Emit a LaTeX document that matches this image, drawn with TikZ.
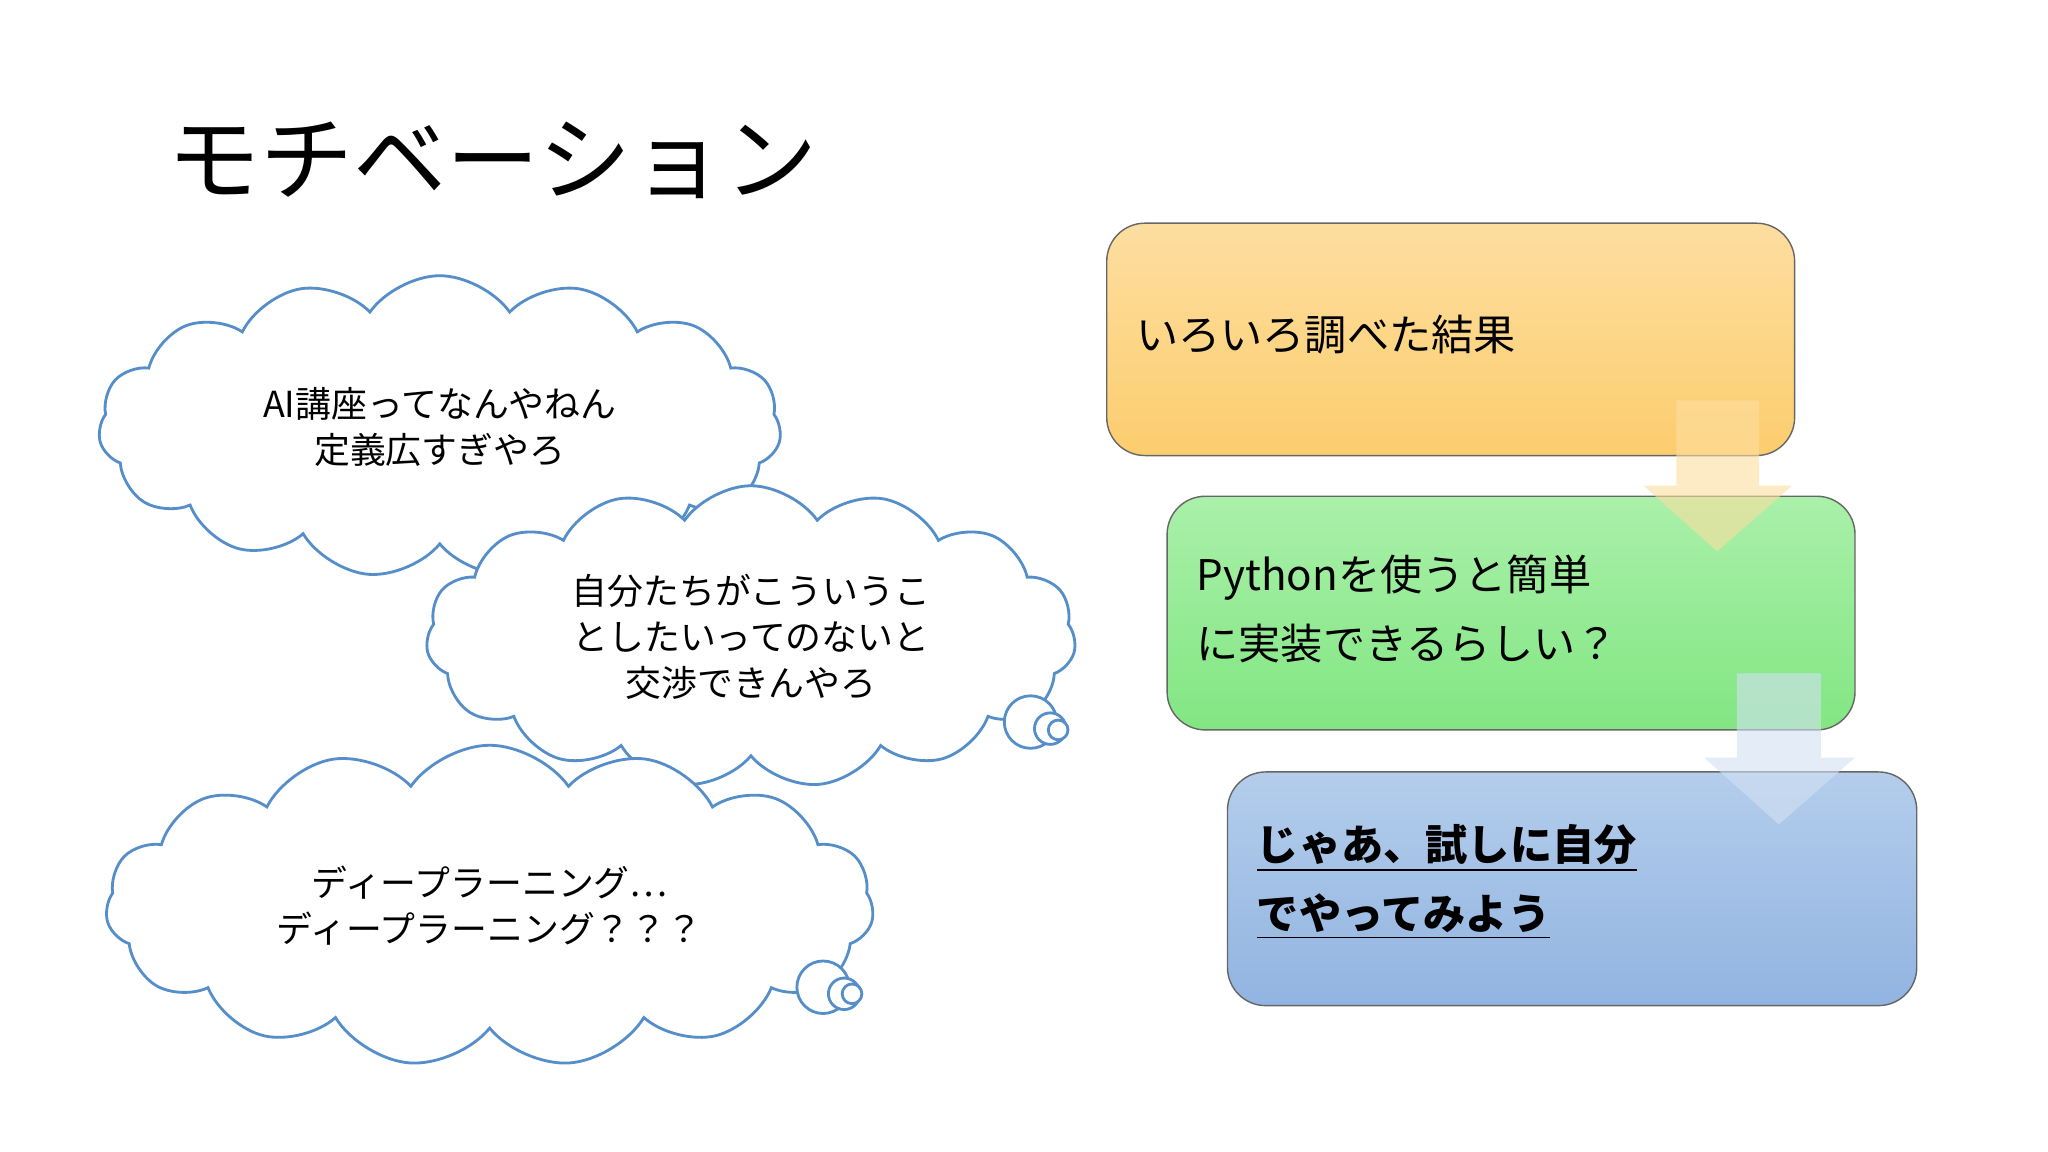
\documentclass[tikz,border=0pt]{standalone}
\usepackage{fontspec}
\setmainfont{Noto Sans CJK JP}
\usetikzlibrary{shapes.symbols,positioning}
\definecolor{cloudblue}{RGB}{85,142,200}
\definecolor{orangeA}{RGB}{253,222,160}
\definecolor{orangeB}{RGB}{252,205,110}
\definecolor{greenA}{RGB}{170,240,170}
\definecolor{greenB}{RGB}{130,230,130}
\definecolor{blueA}{RGB}{180,205,235}
\definecolor{blueB}{RGB}{145,180,225}
\begin{document}
\begin{tikzpicture}[x=0.01313cm,y=-0.01313cm]
\tikzset{
  thought/.style={cloud, cloud puffs=15, cloud puff arc=110, aspect=2.3, draw=cloudblue,
    fill=white, thick, align=center, font=\fontsize{10.2}{13}\selectfont, inner sep=0pt},
  bubble/.style={circle, draw=cloudblue, fill=white, thick, inner sep=0pt},
  boxtext/.style={anchor=west, align=left, font=\fontsize{12}{19.5}\selectfont},
  downarrow/.style={fill=#1, opacity=0.6}
}
\useasboundingbox (0,0) rectangle (1560,877);
\fill[white] (0,0) rectangle (1560,877);

\node[anchor=west, font=\fontsize{26.5}{32}\selectfont] (title) at (118,122) {モチベーション};

% clouds
\node[thought, minimum width=520*0.01313cm, minimum height=230*0.01313cm] (c1) at (335,325)
  {AI講座ってなんやねん\\定義広すぎやろ};
\node[thought, minimum width=495*0.01313cm, minimum height=230*0.01313cm] (c2) at (572,485)
  {自分たちがこういうこ\\としたいってのないと\\交渉できんやろ};
\node[bubble, minimum size=40*0.01313cm] (b1) at (785,550) {};
\node[bubble, minimum size=24*0.01313cm] (b2) at (800,555) {};
\node[bubble, minimum size=15*0.01313cm] (b3) at (806,556) {};
\node[thought, minimum width=585*0.01313cm, minimum height=230*0.01313cm] (c3) at (373,690)
  {ディープラーニング…\\ディープラーニング？？？};
\node[bubble, minimum size=40*0.01313cm] (b4) at (627,752) {};
\node[bubble, minimum size=24*0.01313cm] (b5) at (643,757) {};
\node[bubble, minimum size=15*0.01313cm] (b6) at (649,757) {};

% steps
\draw[draw=black!60, rounded corners=2ex, top color=orangeA, bottom color=orangeB]
  (843,170) rectangle (1367,347);
\node[boxtext] (t1) at (856,255) {いろいろ調べた結果};
\draw[draw=black!60, rounded corners=2ex, top color=greenA, bottom color=greenB]
  (889,378) rectangle (1413,556);
\node[boxtext] (t2) at (902,464) {Pythonを使うと簡単\\に実装できるらしい？};
\draw[draw=black!60, rounded corners=2ex, top color=blueA, bottom color=blueB]
  (935,588) rectangle (1460,766);
\node[boxtext, font=\bfseries\fontsize{12}{19.5}\selectfont] (t3) at (948,672)
  {\underline{じゃあ、試しに自分}\\\underline{でやってみよう}};

\fill[downarrow=orangeA] (1277,305) -- (1340,305) -- (1340,370) -- (1365,370)
  -- (1308,420) -- (1252,370) -- (1277,370) -- cycle;
\fill[downarrow=blueA!60!white] (1323,513) -- (1387,513) -- (1387,577) -- (1413,577)
  -- (1355,628) -- (1298,577) -- (1323,577) -- cycle;
\end{tikzpicture}
\end{document}
